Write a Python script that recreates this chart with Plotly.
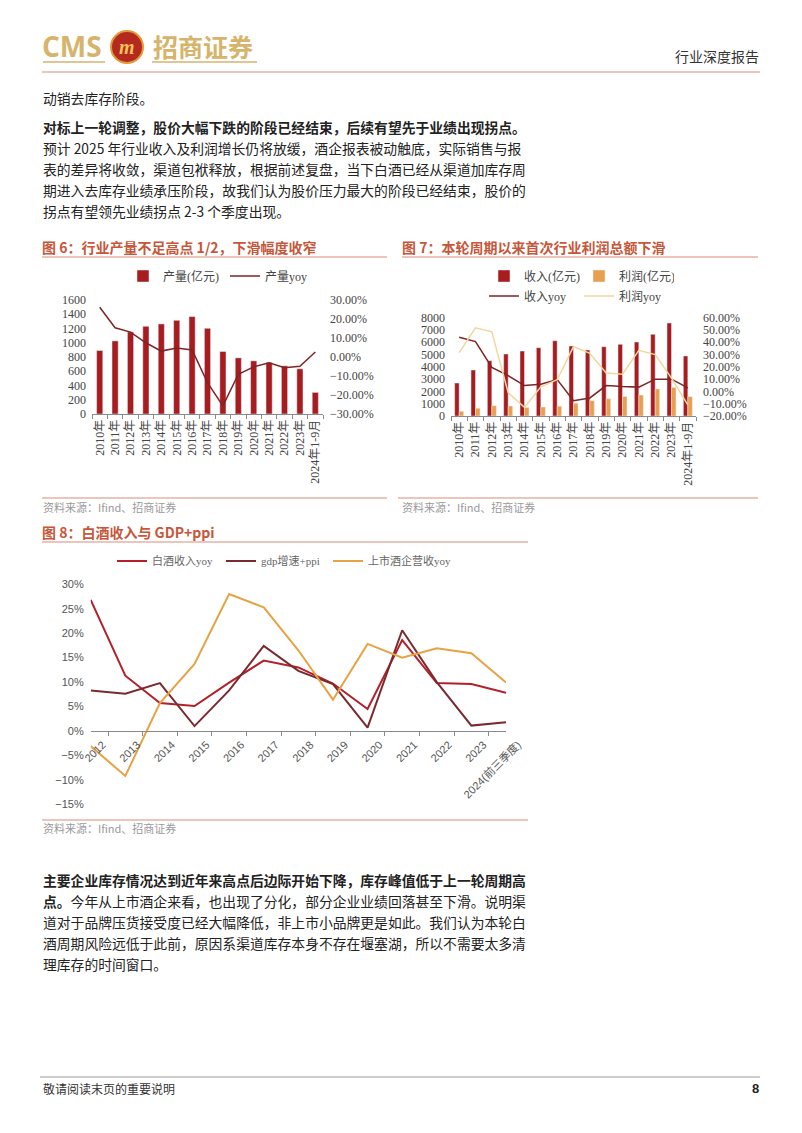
import plotly.graph_objects as go

W, H = 802, 1133

# ---------------- data ----------------
years_a = ["2010年", "2011年", "2012年", "2013年", "2014年", "2015年", "2016年", "2017年",
           "2018年", "2019年", "2020年", "2021年", "2022年", "2023年", "2024年1-9月"]
output_vol = [891, 1026, 1152, 1231, 1264, 1315, 1367, 1203, 877, 788, 746, 723, 676, 634, 303]
output_yoy = [0.262, 0.154, 0.131, 0.075, 0.031, 0.047, 0.037, -0.135, -0.257, -0.091,
              -0.052, -0.030, -0.056, -0.049, 0.026]

revenue = [2685, 3742, 4502, 5044, 5288, 5559, 6129, 5695, 5369, 5641, 5830, 6020, 6644, 7566, 4881]
profit = [380, 624, 840, 806, 698, 727, 797, 1028, 1250, 1404, 1585, 1701, 2202, 2328, 1573]
revenue_yoy = [0.441, 0.406, 0.196, 0.128, 0.048, 0.059, 0.097, -0.075, -0.053, 0.048,
               0.040, 0.035, 0.100, 0.100, 0.029]
profit_yoy = [0.316, 0.518, 0.485, -0.010, -0.130, 0.037, 0.095, 0.365, 0.310, 0.150,
              0.140, 0.334, 0.300, 0.108, -0.110]

years_b = ["2012", "2013", "2014", "2015", "2016", "2017", "2018", "2019", "2020",
           "2021", "2022", "2023", "2024(前三季度)"]
baijiu_yoy = [0.268, 0.113, 0.057, 0.051, 0.099, 0.144, 0.130, 0.097, 0.045, 0.186, 0.098, 0.096, 0.078]
gdp_ppi = [0.083, 0.076, 0.098, 0.010, 0.083, 0.174, 0.123, 0.096, 0.007, 0.206, 0.100, 0.011, 0.018]
listed_yoy = [-0.031, -0.092, 0.057, 0.137, 0.280, 0.253, 0.165, 0.064, 0.178, 0.150, 0.169, 0.159, 0.099]

# ---------------- helpers ----------------
def fx(x):
    return x / W


def fy(y):
    return 1 - y / H


SERIF = "Liberation Serif, Noto Sans CJK SC, serif"
SANS = "Liberation Sans, Noto Sans CJK SC, sans-serif"
CJK = "Noto Sans CJK SC, sans-serif"

RED_BAR = "#A71C1F"
DARK_LINE = "#7E2424"
ORANGE_BAR = "#E8A04E"
BEIGE_LINE = "#F1D79C"
TITLE_C = "#C6573B"
RULE_C = "#DC8C76"
GOLD = "#D6B46C"

fig = go.Figure()

# ---------- chart 6 ----------
fig.add_trace(go.Bar(x=years_a, y=output_vol, name="产量(亿元)", marker_color=RED_BAR,
                     width=0.4, xaxis="x", yaxis="y", legend="legend"))
fig.add_trace(go.Scatter(x=years_a, y=output_yoy, name="产量yoy", mode="lines",
                         line=dict(color=DARK_LINE, width=1.5), xaxis="x", yaxis="y2",
                         legend="legend"))

# ---------- chart 7 ----------
fig.add_trace(go.Bar(x=years_a, y=revenue, name="收入(亿元)", marker_color=RED_BAR,
                     xaxis="x2", yaxis="y3", legend="legend2"))
fig.add_trace(go.Bar(x=years_a, y=profit, name="利润(亿元)", marker_color=ORANGE_BAR,
                     xaxis="x2", yaxis="y3", legend="legend2"))
fig.add_trace(go.Scatter(x=years_a, y=revenue_yoy, name="收入yoy", mode="lines",
                         line=dict(color=DARK_LINE, width=1.5), xaxis="x2", yaxis="y4",
                         legend="legend3"))
fig.add_trace(go.Scatter(x=years_a, y=profit_yoy, name="利润yoy", mode="lines",
                         line=dict(color=BEIGE_LINE, width=1.5), xaxis="x2", yaxis="y4",
                         legend="legend3"))

# ---------- chart 8 ----------
fig.add_trace(go.Scatter(x=years_b, y=baijiu_yoy, name="白酒收入yoy", mode="lines",
                         line=dict(color="#B3202A", width=2), xaxis="x3", yaxis="y5",
                         legend="legend4"))
fig.add_trace(go.Scatter(x=years_b, y=gdp_ppi, name="gdp增速+ppi", mode="lines",
                         line=dict(color="#7A2A2E", width=2), xaxis="x3", yaxis="y5",
                         legend="legend4"))
fig.add_trace(go.Scatter(x=years_b, y=listed_yoy, name="上市酒企营收yoy", mode="lines",
                         line=dict(color="#E6A244", width=2), xaxis="x3", yaxis="y5",
                         legend="legend5"))

tick_serif = dict(family=SERIF, size=12, color="#444")
cat_axis = dict(type="category", showline=True, linecolor="#8a8a8a", linewidth=1,
                ticks="outside", tickson="boundaries", ticklen=4, tickcolor="#8a8a8a",
                tickangle=-90, tickfont=dict(family=SERIF, size=12, color="#444"),
                showgrid=False, zeroline=False, automargin=False)

d8 = [fy(804.3), fy(584.3)]
zero_pos = d8[0] + (0 - (-0.15)) / (0.30 - (-0.15)) * (d8[1] - d8[0])

leg_common = dict(xanchor="left", yanchor="middle", orientation="h", itemwidth=30,
                  entrywidthmode="pixels", bgcolor="rgba(0,0,0,0)", borderwidth=0)

fig.update_layout(
    width=W, height=H, margin=dict(l=0, r=0, t=0, b=0, pad=0, autoexpand=False),
    paper_bgcolor="white", plot_bgcolor="rgba(0,0,0,0)",
    barmode="group", bargap=0.45, bargroupgap=0.0,
    showlegend=True,
    xaxis=dict(cat_axis, domain=[fx(92), fx(323)], anchor="y"),
    yaxis=dict(domain=[fy(414), fy(300)], range=[0, 1600], dtick=200, showgrid=False,
               zeroline=False, showline=False, tickfont=tick_serif, ticks="", anchor="x",
               automargin=False, ticklabelstandoff=5),
    yaxis2=dict(overlaying="y", side="right", range=[-0.3, 0.3], dtick=0.1,
                tickformat=".2%", showgrid=False, zeroline=False, tickfont=tick_serif,
                anchor="x", automargin=False, ticklabelstandoff=6),
    xaxis2=dict(cat_axis, domain=[fx(451), fx(696)], anchor="y3"),
    yaxis3=dict(domain=[fy(416), fy(317.7)], range=[0, 8000], dtick=1000, showgrid=False,
                zeroline=False, showline=False, tickfont=tick_serif, anchor="x2",
                automargin=False, ticklabelstandoff=5),
    yaxis4=dict(overlaying="y3", side="right", range=[-0.2, 0.6], dtick=0.1,
                tickformat=".2%", showgrid=False, zeroline=False, tickfont=tick_serif,
                anchor="x2", automargin=False, ticklabelstandoff=6),
    xaxis3=dict(type="category", domain=[fx(90.7), fx(506)], anchor="free",
                position=zero_pos, showline=True, linecolor="#8a8a8a", linewidth=1,
                ticks="outside", tickson="boundaries", ticklen=4, tickcolor="#8a8a8a",
                tickangle=-45, tickfont=dict(family=SANS, size=11, color="#555"),
                ticklabelshift=12, ticklabelstandoff=2,
                showgrid=False, zeroline=False, automargin=False),
    yaxis5=dict(domain=d8, range=[-0.15, 0.30], dtick=0.05, tickformat=".0%",
                showgrid=False, zeroline=False, showline=False,
                tickfont=dict(family=SANS, size=11, color="#555"), anchor="x3",
                automargin=False, ticklabelstandoff=6),
    legend=dict(leg_common, x=fx(123), y=fy(276), entrywidth=57,
                font=dict(family=SERIF, size=12, color="#444")),
    legend2=dict(leg_common, x=fx(484), y=fy(276), entrywidth=50,
                 font=dict(family=SERIF, size=12, color="#444")),
    legend3=dict(leg_common, x=fx(484), y=fy(296), entrywidth=50,
                 font=dict(family=SERIF, size=12, color="#444")),
    legend4=dict(leg_common, x=fx(112), y=fy(561), entrywidth=64,
                 font=dict(family=SERIF, size=11, color="#666")),
    legend5=dict(leg_common, x=fx(328), y=fy(561),
                 font=dict(family=SERIF, size=11, color="#666")),
)

shapes = []


def hline(x0, x1, y, color, width=1):
    shapes.append(dict(type="line", xref="paper", yref="paper", x0=fx(x0), x1=fx(x1),
                       y0=fy(y), y1=fy(y), line=dict(color=color, width=width)))


# header
hline(43, 105, 62, GOLD, 1.5)
hline(152, 257, 62, GOLD, 1.5)
hline(42, 760, 72, RULE_C, 1.2)
shapes.append(dict(type="circle", xref="paper", yref="paper", x0=fx(111), x1=fx(143),
                   y0=fy(63), y1=fy(31), fillcolor="#B52A1E", line=dict(color="#E09A3A", width=2)))
# chart title underlines & bottom rules
hline(42, 387, 257, RULE_C, 1.2)
hline(402, 758, 257, RULE_C, 1.2)
hline(42, 387, 498, RULE_C, 1.2)
hline(398, 758, 498, RULE_C, 1.2)
hline(42, 528, 542, RULE_C, 1.2)
hline(42, 528, 820, RULE_C, 1.2)
# footer rule
hline(40, 760, 1077, "#9a9a9a", 1)
fig.update_layout(shapes=shapes)

ann = []


def text(x, y, s, size=14, color="#333", family=CJK, xanchor="left", bold=False):
    if bold:
        s = "<b>" + s + "</b>"
    ann.append(dict(xref="paper", yref="paper", x=fx(x), y=fy(y), text=s, showarrow=False,
                    xanchor=xanchor, yanchor="middle", borderpad=0,
                    font=dict(family=family, size=size, color=color)))


# logo
text(41, 46, "CMS", size=28, color=GOLD, family="Open Sans, Liberation Sans, sans-serif", bold=True)
text(127, 47, "<i>m</i>", size=20, color="#F2C35A", family="Liberation Serif, serif",
     xanchor="center", bold=True)
text(152, 46, "招商证券", size=25, color=GOLD, bold=True)
text(760, 56, "行业深度报告", size=14, color="#333", xanchor="right")

body = [
    (98, "动销去库存阶段。", False),
    (127, "对标上一轮调整，股价大幅下跌的阶段已经结束，后续有望先于业绩出现拐点。", True),
    (148, "预计 2025 年行业收入及利润增长仍将放缓，酒企报表被动触底，实际销售与报", False),
    (169, "表的差异将收敛，渠道包袱释放，根据前述复盘，当下白酒已经从渠道加库存周", False),
    (190, "期进入去库存业绩承压阶段，故我们认为股价压力最大的阶段已经结束，股价的", False),
    (211, "拐点有望领先业绩拐点 2-3 个季度出现。", False),
    (880, "主要企业库存情况达到近年来高点后边际开始下降，库存峰值低于上一轮周期高", True),
    (901, "<b>点。</b>今年从上市酒企来看，也出现了分化，部分企业业绩回落甚至下滑。说明渠", False),
    (922, "道对于品牌压货接受度已经大幅降低，非上市小品牌更是如此。我们认为本轮白", False),
    (943, "酒周期风险远低于此前，原因系渠道库存本身不存在堰塞湖，所以不需要太多清", False),
    (964, "理库存的时间窗口。", False),
]
for y, s, b in body:
    text(42, y, s, size=13.8, color="#222", bold=b)

# chart titles and sources
text(41, 247, "图 6：行业产量不足高点 1/2，下滑幅度收窄", size=14, color=TITLE_C, bold=True)
text(401, 247, "图 7：本轮周期以来首次行业利润总额下滑", size=14, color=TITLE_C, bold=True)
text(41, 532, "图 8：白酒收入与 GDP+ppi", size=14, color=TITLE_C, bold=True)
text(42, 507, "资料来源：Ifind、招商证券", size=11, color="#9a9a9a")
text(401, 507, "资料来源：Ifind、招商证券", size=11, color="#9a9a9a")
text(42, 828, "资料来源：Ifind、招商证券", size=11, color="#9a9a9a")

# footer
text(42, 1088, "敬请阅读末页的重要说明", size=12, color="#333")
text(760, 1088, "8", size=13, color="#222", family=SANS, xanchor="right", bold=True)

fig.update_layout(annotations=ann)

fig.write_html("out.html")
